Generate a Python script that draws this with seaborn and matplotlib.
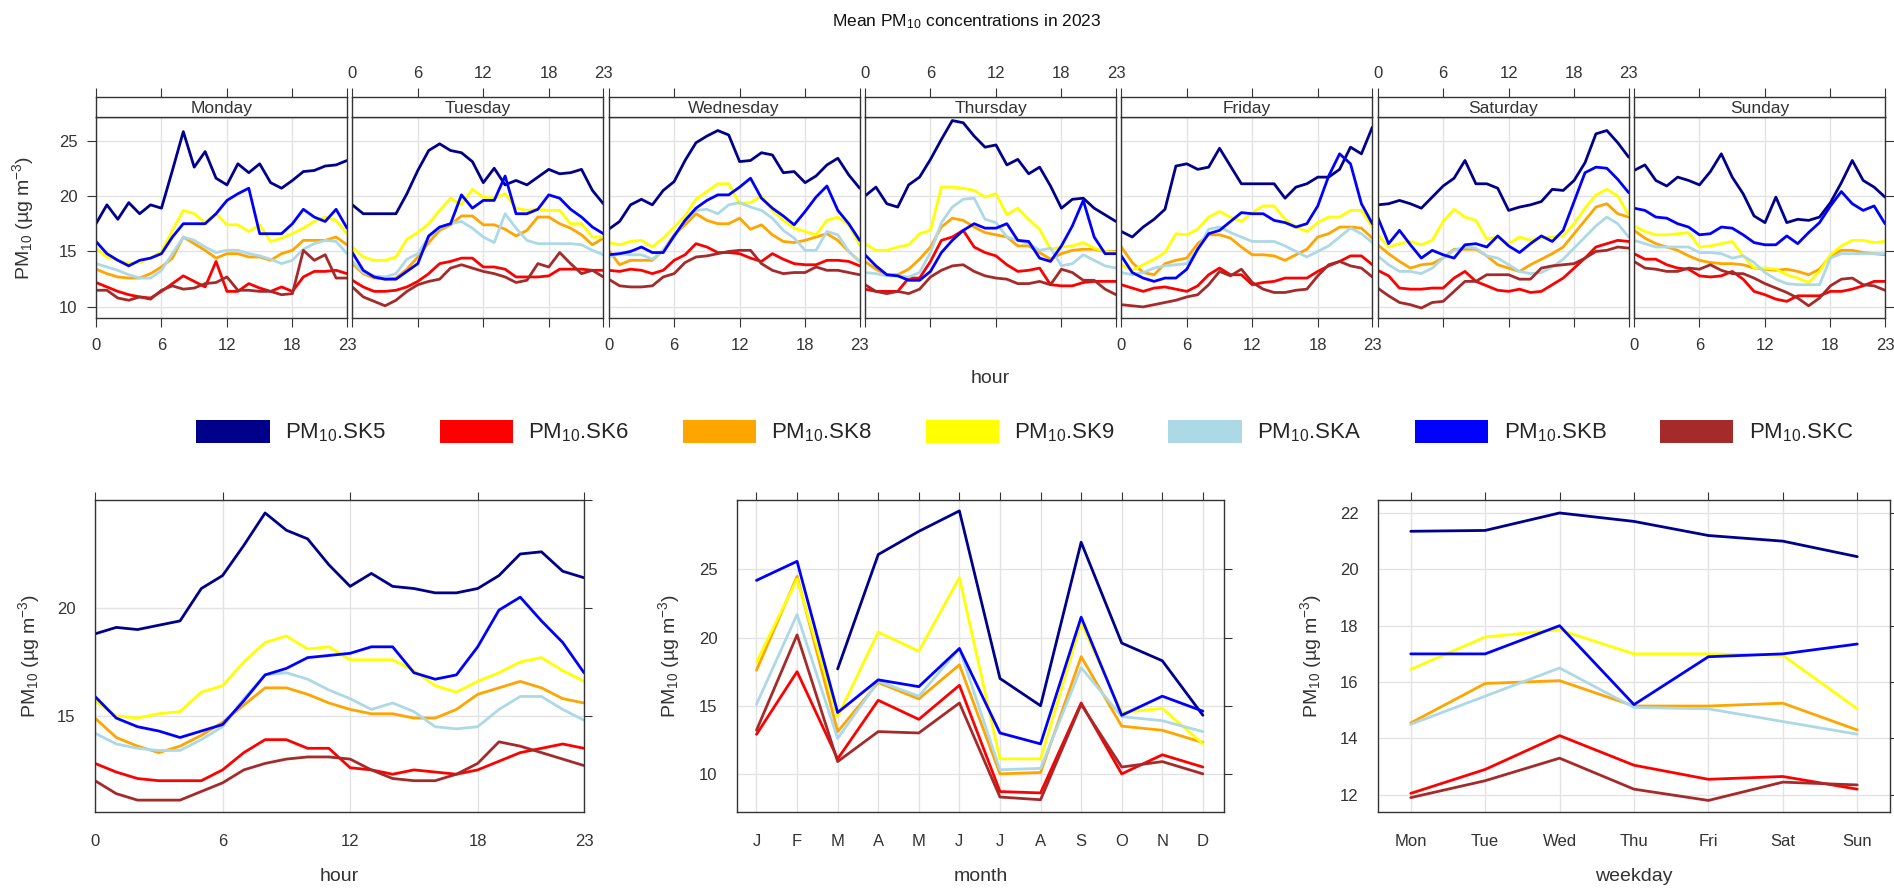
import numpy as np
import pandas as pd
import matplotlib
matplotlib.use('Agg')
import matplotlib.pyplot as plt
import seaborn as sns
from matplotlib.patches import Patch

sites = ['SK5', 'SK6', 'SK8', 'SK9', 'SKA', 'SKB', 'SKC']
site_colours = ['darkblue', 'red', 'orange', 'yellow', 'lightblue', 'blue', 'brown']
days = ['Monday', 'Tuesday', 'Wednesday', 'Thursday', 'Friday', 'Saturday', 'Sunday']
hour_ticks = [0, 6, 12, 18, 23]
month_labels = ['J', 'F', 'M', 'A', 'M', 'J', 'J', 'A', 'S', 'O', 'N', 'D']
weekday_labels = ['Mon', 'Tue', 'Wed', 'Thu', 'Fri', 'Sat', 'Sun']

# day x hour means (Monday..Sunday, 24 values each)
sk5_dayhour = [
    17.5, 19.2, 17.9, 19.4, 18.4, 19.2, 18.9, 22.3, 25.8, 22.6, 24.0, 21.6, 21.0, 22.9, 22.1, 22.9, 21.2, 20.7, 21.4, 22.2, 22.3, 22.7, 22.8, 23.2,
    19.2, 18.4, 18.4, 18.4, 18.4, 20.2, 22.3, 24.1, 24.7, 24.1, 23.9, 23.1, 21.2, 22.5, 21.0, 21.4, 21.0, 21.7, 22.4, 22.0, 22.1, 22.4, 20.5, 19.3,
    17.0, 17.7, 19.2, 19.7, 19.2, 20.5, 21.3, 23.2, 24.8, 25.4, 25.9, 25.5, 23.1, 23.2, 23.9, 23.7, 22.1, 22.2, 21.2, 21.8, 22.8, 23.4, 21.9, 20.7,
    20.0, 20.8, 19.3, 19.0, 21.0, 21.7, 23.3, 25.1, 26.8, 26.6, 25.4, 24.4, 24.6, 22.8, 23.3, 22.0, 22.6, 20.9, 18.9, 19.7, 19.8, 18.9, 18.3, 17.7,
    16.8, 16.3, 17.2, 17.9, 18.8, 22.7, 22.9, 22.4, 22.6, 24.3, 22.7, 21.1, 21.1, 21.1, 21.1, 19.8, 20.8, 21.1, 21.7, 21.7, 22.4, 24.4, 23.8, 26.2,
    19.2, 19.3, 19.6, 19.3, 18.9, 19.9, 20.9, 21.6, 23.2, 21.1, 21.1, 20.7, 18.7, 19.0, 19.2, 19.5, 20.6, 20.5, 21.4, 23.0, 25.6, 25.9, 24.8, 23.5,
    22.3, 22.8, 21.4, 20.9, 21.7, 21.4, 21.0, 22.2, 23.8, 21.7, 20.2, 18.2, 17.6, 19.9, 17.6, 17.9, 17.8, 18.1, 19.4, 21.2, 23.2, 21.4, 20.8, 19.9,
]
sk6_dayhour = [
    12.2, 11.8, 11.4, 11.1, 10.9, 10.8, 11.4, 12.1, 12.8, 12.3, 11.8, 14.1, 11.4, 11.4, 12.1, 11.7, 11.4, 11.8, 11.4, 12.7, 13.2, 13.2, 13.3, 13.0,
    12.4, 11.8, 11.4, 11.4, 11.5, 11.8, 12.3, 13.0, 13.9, 14.1, 14.4, 14.4, 13.6, 13.6, 13.4, 12.7, 12.7, 12.7, 12.8, 13.4, 13.4, 13.4, 13.3, 13.3,
    13.3, 13.2, 13.4, 13.3, 13.0, 13.3, 14.2, 14.7, 15.7, 15.4, 14.9, 14.9, 14.8, 14.4, 14.1, 14.8, 14.3, 13.9, 13.8, 13.8, 14.2, 14.2, 14.1, 13.7,
    11.6, 11.4, 11.4, 11.4, 12.6, 12.6, 14.1, 16.0, 16.3, 16.9, 15.4, 14.9, 14.6, 13.8, 13.2, 13.3, 13.5, 12.0, 11.9, 11.9, 12.2, 12.3, 12.3, 12.3,
    12.0, 11.7, 11.4, 11.7, 11.8, 11.6, 11.4, 11.9, 12.9, 13.5, 12.9, 12.9, 12.0, 12.2, 12.3, 12.6, 12.6, 12.6, 13.2, 13.7, 14.1, 14.6, 14.6, 13.8,
    13.3, 12.8, 11.7, 11.6, 11.6, 11.7, 11.7, 12.6, 13.2, 12.3, 11.9, 11.5, 11.4, 11.6, 11.3, 11.4, 12.0, 12.6, 13.5, 14.4, 15.4, 15.7, 16.0, 15.9,
    14.8, 14.3, 14.3, 13.8, 13.5, 13.4, 12.8, 12.7, 12.8, 13.2, 12.5, 11.4, 11.1, 10.7, 10.5, 11.0, 11.0, 11.0, 11.4, 11.4, 11.6, 11.9, 12.3, 12.3,
]
sk8_dayhour = [
    13.4, 13.0, 12.7, 12.6, 12.6, 13.0, 13.6, 14.4, 16.3, 15.7, 15.1, 14.4, 14.8, 14.8, 14.5, 14.5, 14.2, 14.8, 15.1, 16.0, 16.0, 16.0, 16.3, 15.6,
    13.9, 13.0, 12.6, 12.5, 12.6, 13.4, 14.5, 15.8, 16.9, 17.4, 18.2, 18.2, 17.4, 17.4, 17.0, 16.4, 16.9, 18.1, 18.1, 17.5, 17.1, 16.5, 15.6, 16.2,
    15.1, 13.8, 14.2, 14.2, 14.2, 15.1, 16.5, 17.4, 18.4, 17.8, 17.5, 17.5, 18.0, 17.0, 17.4, 16.5, 15.9, 15.8, 16.0, 16.3, 16.6, 16.0, 15.0, 14.1,
    14.1, 13.4, 12.9, 12.9, 13.4, 14.3, 15.4, 17.2, 18.0, 17.8, 17.2, 16.7, 16.5, 16.3, 15.5, 15.5, 14.9, 14.3, 14.8, 15.1, 15.2, 15.2, 15.0, 15.0,
    15.4, 14.0, 13.1, 12.9, 13.9, 14.2, 14.4, 15.7, 16.5, 16.5, 16.2, 15.4, 14.7, 14.7, 14.6, 14.2, 14.7, 15.2, 16.3, 16.6, 17.2, 17.2, 17.1, 16.2,
    15.6, 14.8, 14.1, 13.5, 13.8, 13.9, 14.4, 15.2, 15.2, 15.2, 14.6, 13.8, 13.5, 13.2, 13.8, 14.3, 14.8, 15.4, 16.6, 17.8, 19.0, 19.3, 18.4, 18.1,
    16.9, 16.2, 15.7, 15.4, 15.1, 14.6, 14.2, 14.0, 13.9, 13.9, 13.8, 13.5, 13.4, 13.3, 13.4, 13.2, 12.9, 13.4, 14.6, 15.1, 15.1, 14.9, 14.8, 14.7,
]
sk9_dayhour = [
    15.3, 14.5, 14.2, 13.9, 14.0, 14.4, 15.0, 16.9, 18.7, 18.4, 17.6, 18.4, 17.4, 17.4, 16.8, 17.4, 15.9, 16.2, 16.6, 17.1, 17.7, 18.1, 17.8, 16.6,
    15.4, 14.5, 14.2, 14.2, 14.5, 16.1, 16.7, 17.5, 18.7, 19.8, 19.2, 20.6, 19.9, 19.8, 20.2, 18.9, 18.7, 18.8, 18.7, 18.7, 17.5, 17.5, 16.3, 16.3,
    15.8, 15.6, 15.9, 16.0, 15.4, 16.2, 17.2, 18.2, 19.7, 20.4, 21.1, 21.1, 19.3, 19.4, 20.0, 18.7, 17.8, 17.1, 16.8, 16.5, 17.8, 18.1, 17.4, 15.6,
    15.7, 15.1, 15.1, 15.4, 15.6, 16.6, 16.9, 20.8, 20.8, 20.7, 20.5, 19.9, 20.2, 18.3, 18.9, 17.9, 17.0, 15.2, 15.4, 15.5, 15.8, 15.3, 15.0, 14.9,
    13.8, 13.3, 13.8, 14.3, 14.9, 16.6, 16.5, 17.0, 18.1, 18.6, 18.1, 17.7, 18.5, 19.1, 19.1, 17.9, 17.2, 16.8, 17.6, 18.1, 18.1, 18.7, 18.7, 17.2,
    16.5, 15.4, 15.7, 15.9, 15.6, 16.0, 17.7, 18.8, 18.1, 17.8, 16.1, 16.3, 15.7, 16.3, 16.0, 16.2, 16.3, 16.4, 17.5, 18.9, 20.1, 20.6, 20.0, 18.3,
    17.3, 16.8, 16.5, 16.5, 16.6, 16.7, 15.4, 15.5, 15.7, 15.9, 14.6, 13.5, 13.5, 13.4, 12.9, 12.6, 12.2, 13.2, 14.7, 15.5, 16.0, 16.0, 15.8, 15.9,
]
ska_dayhour = [
    13.9, 13.6, 13.3, 12.9, 12.6, 12.6, 13.3, 14.8, 16.3, 16.0, 15.4, 14.9, 15.1, 15.1, 14.8, 14.6, 14.3, 13.9, 14.2, 15.2, 15.7, 16.0, 15.9, 14.8,
    14.1, 13.1, 12.8, 12.7, 13.0, 14.3, 14.8, 16.3, 17.1, 17.5, 17.7, 17.1, 16.3, 15.8, 18.4, 17.1, 16.0, 15.7, 15.7, 15.7, 15.7, 15.6, 15.1, 14.7,
    14.5, 14.8, 14.7, 14.7, 14.3, 15.1, 16.3, 17.8, 18.7, 18.8, 18.4, 19.2, 19.4, 19.0, 18.7, 18.0, 16.9, 16.2, 15.1, 15.1, 16.8, 16.5, 15.0, 14.1,
    13.1, 13.0, 12.8, 12.8, 12.7, 13.1, 14.9, 17.6, 19.0, 19.7, 19.8, 17.9, 17.6, 16.3, 16.0, 15.7, 15.1, 15.3, 13.7, 13.9, 14.7, 14.2, 13.7, 13.5,
    13.1, 12.9, 13.1, 13.5, 13.7, 13.8, 13.9, 15.2, 17.0, 17.2, 16.7, 16.3, 15.9, 15.9, 15.9, 15.5, 15.0, 14.5, 15.0, 15.5, 16.3, 17.1, 16.6, 15.8,
    14.6, 13.8, 13.2, 13.2, 13.0, 13.5, 14.4, 15.1, 15.4, 15.3, 14.6, 14.4, 13.8, 13.2, 13.0, 13.1, 13.6, 14.3, 15.3, 16.3, 17.3, 18.1, 17.5, 16.3,
    16.0, 15.7, 15.4, 15.4, 15.4, 15.4, 14.9, 14.9, 14.8, 14.4, 14.6, 14.0, 13.1, 12.5, 12.1, 12.0, 12.0, 12.0, 14.4, 14.8, 14.8, 14.8, 14.8, 14.8,
]
skb_dayhour = [
    15.9, 14.8, 14.2, 13.7, 14.2, 14.4, 14.8, 16.3, 17.5, 17.5, 17.5, 18.4, 19.6, 20.2, 20.7, 16.6, 16.6, 16.6, 17.5, 18.8, 18.1, 17.7, 18.8, 17.1,
    14.9, 13.3, 12.7, 12.5, 12.5, 13.2, 13.9, 16.4, 17.2, 17.5, 20.1, 18.9, 19.6, 19.6, 21.8, 18.4, 18.4, 18.8, 20.1, 19.8, 18.8, 18.1, 17.2, 16.6,
    14.7, 14.8, 15.0, 15.4, 14.9, 14.9, 16.4, 17.8, 18.9, 19.6, 20.1, 20.1, 20.8, 21.6, 19.8, 18.9, 18.2, 17.4, 18.6, 19.9, 20.9, 18.7, 17.5, 16.0,
    14.7, 13.7, 12.9, 12.8, 12.4, 12.4, 13.2, 14.9, 16.0, 16.9, 17.5, 17.1, 17.1, 17.5, 16.0, 15.9, 14.4, 14.1, 15.5, 17.3, 19.6, 16.3, 14.8, 14.8,
    14.6, 13.1, 12.6, 12.3, 12.6, 12.6, 13.4, 15.2, 16.6, 16.9, 17.7, 18.5, 18.4, 18.4, 17.8, 17.6, 17.2, 17.5, 19.1, 21.8, 23.8, 22.9, 19.3, 17.5,
    18.1, 15.7, 16.9, 15.6, 14.4, 15.1, 14.7, 14.4, 15.6, 15.7, 15.4, 16.4, 15.5, 14.9, 15.7, 16.4, 15.9, 16.9, 19.5, 22.1, 22.6, 22.5, 21.5, 20.3,
    18.9, 18.7, 18.1, 18.0, 17.5, 17.2, 16.5, 16.6, 17.2, 17.1, 16.5, 15.8, 15.6, 15.6, 16.4, 15.7, 16.7, 17.6, 19.1, 20.4, 19.3, 18.7, 19.1, 17.5,
]
skc_dayhour = [
    11.5, 11.5, 10.8, 10.6, 10.9, 10.7, 11.5, 11.9, 11.6, 11.7, 12.1, 12.2, 12.7, 11.5, 11.5, 11.4, 11.4, 11.1, 11.2, 15.1, 14.2, 14.7, 12.6, 12.6,
    11.8, 10.9, 10.5, 10.1, 10.6, 11.4, 12.0, 12.3, 12.5, 13.5, 13.8, 13.5, 13.2, 13.0, 12.7, 12.2, 12.4, 13.9, 13.6, 14.9, 13.9, 13.0, 13.3, 12.7,
    12.5, 11.9, 11.8, 11.8, 11.9, 12.7, 13.0, 14.0, 14.5, 14.6, 14.8, 15.0, 15.1, 15.1, 13.9, 13.3, 13.0, 13.1, 13.1, 13.6, 13.3, 13.3, 13.1, 12.9,
    12.0, 11.4, 11.2, 11.4, 11.2, 11.6, 12.7, 13.3, 13.7, 13.8, 13.2, 12.8, 12.6, 12.5, 12.1, 12.1, 12.3, 12.0, 13.4, 13.1, 12.4, 12.4, 11.6, 11.1,
    10.2, 10.1, 10.0, 10.2, 10.4, 10.6, 10.9, 11.1, 12.0, 13.2, 12.8, 13.4, 12.2, 11.6, 11.3, 11.3, 11.5, 11.6, 12.8, 13.8, 14.1, 13.7, 13.5, 12.7,
    11.7, 11.0, 10.4, 10.2, 9.9, 10.4, 10.5, 11.4, 12.3, 12.3, 12.9, 12.9, 12.9, 12.5, 12.5, 13.5, 13.7, 13.8, 13.9, 14.4, 15.0, 15.1, 15.4, 15.3,
    14.1, 13.5, 13.4, 13.2, 13.2, 13.5, 13.4, 13.8, 13.3, 13.0, 13.0, 12.6, 12.1, 11.7, 11.3, 10.8, 10.1, 10.8, 11.9, 12.5, 12.6, 12.0, 11.9, 11.5,
]

# mean diurnal cycle (hour 0..23)
sk5_hour = [18.8, 19.1, 19.0, 19.2, 19.4, 20.9, 21.5, 22.9, 24.4, 23.6, 23.2, 22.0, 21.0, 21.6, 21.0, 20.9, 20.7, 20.7, 20.9, 21.5, 22.5, 22.6, 21.7, 21.4]
sk6_hour = [12.8, 12.4, 12.1, 12.0, 12.0, 12.0, 12.5, 13.3, 13.9, 13.9, 13.5, 13.5, 12.6, 12.5, 12.3, 12.5, 12.4, 12.3, 12.5, 12.9, 13.3, 13.5, 13.7, 13.5]
sk8_hour = [14.9, 14.0, 13.6, 13.3, 13.6, 14.1, 14.7, 15.5, 16.3, 16.3, 16.0, 15.6, 15.3, 15.1, 15.1, 14.9, 14.9, 15.3, 16.0, 16.3, 16.6, 16.3, 15.8, 15.6]
sk9_hour = [15.7, 15.0, 14.9, 15.1, 15.2, 16.1, 16.4, 17.5, 18.4, 18.7, 18.1, 18.2, 17.6, 17.6, 17.6, 17.1, 16.4, 16.1, 16.6, 17.0, 17.5, 17.7, 17.1, 16.6]
ska_hour = [14.2, 13.7, 13.5, 13.4, 13.4, 13.9, 14.5, 15.8, 16.9, 17.0, 16.7, 16.2, 15.8, 15.3, 15.6, 15.2, 14.5, 14.4, 14.5, 15.3, 15.9, 15.9, 15.3, 14.8]
skb_hour = [15.9, 14.9, 14.5, 14.3, 14.0, 14.3, 14.6, 15.7, 16.9, 17.2, 17.7, 17.8, 17.9, 18.2, 18.2, 17.0, 16.7, 16.9, 18.2, 19.9, 20.5, 19.4, 18.4, 17.0]
skc_hour = [12.0, 11.4, 11.1, 11.1, 11.1, 11.5, 11.9, 12.5, 12.8, 13.0, 13.1, 13.1, 13.0, 12.5, 12.1, 12.0, 12.0, 12.3, 12.8, 13.8, 13.6, 13.3, 13.0, 12.7]

# monthly means (Jan..Dec), SK5 has no data for Jan/Feb
sk5_month = [np.nan, np.nan, 17.7, 26.1, 27.8, 29.3, 17.0, 15.0, 27.0, 19.6, 18.3, 14.3]
sk6_month = [12.9, 17.5, 11.1, 15.4, 14.0, 16.5, 8.7, 8.6, 15.2, 10.0, 11.4, 10.5]
sk8_month = [17.6, 24.5, 13.1, 16.7, 15.5, 18.0, 10.0, 10.1, 18.6, 13.5, 13.2, 12.3]
sk9_month = [18.2, 24.3, 14.2, 20.4, 19.0, 24.4, 11.1, 11.1, 21.1, 14.5, 14.8, 12.2]
ska_month = [15.1, 21.7, 12.6, 16.8, 15.7, 19.2, 10.3, 10.4, 17.8, 14.2, 13.9, 13.1]
skb_month = [24.2, 25.6, 14.5, 16.9, 16.4, 19.2, 13.0, 12.2, 21.5, 14.3, 15.7, 14.6]
skc_month = [13.2, 20.2, 10.9, 13.1, 13.0, 15.2, 8.3, 8.1, 15.1, 10.5, 10.9, 10.0]

# weekday means (Mon..Sun)
sk5_week = [21.35, 21.38, 22.0, 21.7, 21.2, 21.0, 20.45]
sk6_week = [12.05, 12.9, 14.1, 13.05, 12.55, 12.65, 12.2]
sk8_week = [14.55, 15.95, 16.05, 15.15, 15.15, 15.25, 14.3]
sk9_week = [16.45, 17.6, 17.85, 17.0, 17.0, 16.95, 15.05]
ska_week = [14.5, 15.5, 16.5, 15.1, 15.05, 14.6, 14.15]
skb_week = [17.0, 17.0, 18.0, 15.2, 16.9, 17.0, 17.35]
skc_week = [11.9, 12.5, 13.3, 12.2, 11.8, 12.45, 12.35]


def long_frame(series, xname, xvals):
    rows = []
    for site, vals in zip(sites, series):
        for x, v in zip(xvals, vals):
            rows.append((site, x, v))
    return pd.DataFrame(rows, columns=['site', xname, 'pm10'])


dh_x = [(d, h) for d in days for h in range(24)]
df_dh = long_frame([sk5_dayhour, sk6_dayhour, sk8_dayhour, sk9_dayhour, ska_dayhour, skb_dayhour, skc_dayhour], 'dh', dh_x)
df_dh['day'] = df_dh['dh'].str[0]
df_dh['hour'] = df_dh['dh'].str[1]
df_hour = long_frame([sk5_hour, sk6_hour, sk8_hour, sk9_hour, ska_hour, skb_hour, skc_hour], 'hour', range(24))
df_month = long_frame([sk5_month, sk6_month, sk8_month, sk9_month, ska_month, skb_month, skc_month], 'month', range(1, 13))
df_week = long_frame([sk5_week, sk6_week, sk8_week, sk9_week, ska_week, skb_week, skc_week], 'weekday', range(1, 8))

palette = dict(zip(sites, site_colours))

sns.set_style('white')
plt.rcParams['font.family'] = ['Liberation Sans', 'DejaVu Sans']
plt.rcParams['mathtext.default'] = 'regular'
plt.rcParams['axes.edgecolor'] = '#333333'
plt.rcParams['axes.linewidth'] = 1.0
plt.rcParams['xtick.color'] = '#333333'
plt.rcParams['ytick.color'] = '#333333'

W, H = 1894, 888
fig = plt.figure(figsize=(W / 100, H / 100), dpi=100)


def px_axes(x0, y0, x1, y1):
    return fig.add_axes([x0 / W, 1 - y1 / H, (x1 - x0) / W, (y1 - y0) / H])


grid_col = '#e3e3e3'
tick_fs = 12
lab_fs = 14
lab_col = '#333333'
ylab = 'PM$_{10}$ (µg m$^{-3}$)'


def draw(ax, data, x):
    sns.lineplot(data=data, x=x, y='pm10', hue='site', hue_order=sites, palette=palette,
                 legend=False, ax=ax, linewidth=2.0, errorbar=None)
    ax.set_xlabel('')
    ax.set_ylabel('')
    ax.grid(True, color=grid_col, linewidth=1)
    ax.set_axisbelow(True)


# top: day x hour panels
step = (1634 - 96) / 6
for i, day in enumerate(days):
    x0 = 96 + i * step
    ax = px_axes(x0, 117, x0 + 251, 318)
    draw(ax, df_dh[df_dh['day'] == day], 'hour')
    ax.set_xlim(0, 23)
    ax.set_ylim(9.0, 27.12)
    ax.set_xticks(hour_ticks)
    ax.set_yticks([10, 15, 20, 25])
    ax.tick_params(axis='x', direction='out', length=6.5, pad=8, labelsize=tick_fs,
                   bottom=True, labelbottom=(i % 2 == 0), labelcolor=lab_col)
    ax.tick_params(axis='y', direction='out', length=6.5, pad=7, labelsize=tick_fs,
                   left=(i == 0), labelleft=(i == 0), right=(i == 6), labelright=False,
                   labelcolor=lab_col)

    strip = px_axes(x0, 97, x0 + 251, 117)
    strip.set_xlim(0, 23)
    strip.set_ylim(0, 1)
    strip.set_xticks(hour_ticks)
    strip.set_yticks([])
    strip.tick_params(axis='x', direction='out', length=6.5, pad=5, labelsize=tick_fs,
                      top=True, bottom=False, labeltop=(i % 2 == 1), labelbottom=False,
                      labelcolor=lab_col)
    strip.text(11.5, 0.4, day, ha='center', va='center', fontsize=12.5, color='#333333')

fig.text(23 / W, 1 - 218 / H, ylab, rotation=90, ha='center', va='center', fontsize=lab_fs, color='#333333')
fig.text(990 / W, 1 - 378 / H, 'hour', ha='center', va='center', fontsize=lab_fs, color='#333333')
fig.text(967 / W, 1 - 22 / H, 'Mean PM$_{10}$ concentrations in 2023', ha='center', va='center',
         fontsize=12.5, color='#111111')

# legend
handles = [Patch(facecolor=c, edgecolor='none') for c in site_colours]
labels = ['PM$_{10}$.' + s for s in sites]
fig.legend(handles, labels, ncol=7, loc='center', bbox_to_anchor=(1025 / W, 1 - 432 / H),
           frameon=False, fontsize=16, handlelength=3.3, handleheight=1.25,
           handletextpad=0.7, columnspacing=2.4)

# bottom: hour, month, weekday
ax_h = px_axes(95, 500, 584, 812)
draw(ax_h, df_hour, 'hour')
ax_h.set_xlim(0, 23)
ax_h.set_ylim(10.55, 25.0)
ax_h.set_xticks(hour_ticks)
ax_h.set_yticks([15, 20, 25])
ax_h.set_yticklabels(['15', '20', ''])

ax_m = px_axes(737, 500, 1224, 812)
draw(ax_m, df_month, 'month')
ax_m.set_xlim(0.52, 12.52)
ax_m.set_ylim(7.2, 30.1)
ax_m.set_xticks(range(1, 13))
ax_m.set_xticklabels(month_labels)
ax_m.set_yticks([10, 15, 20, 25])

ax_w = px_axes(1378, 500, 1890, 812)
draw(ax_w, df_week, 'weekday')
ax_w.set_xlim(0.56, 7.44)
ax_w.set_ylim(11.39, 22.46)
ax_w.set_xticks(range(1, 8))
ax_w.set_xticklabels(weekday_labels)
ax_w.set_yticks([12, 14, 16, 18, 20, 22])

for ax, name, ylx in [(ax_h, 'hour', 29), (ax_m, 'month', 669), (ax_w, 'weekday', 1311)]:
    ax.tick_params(axis='both', direction='out', length=6, labelsize=tick_fs, labelcolor=lab_col,
                   top=True, right=True, labeltop=False, labelright=False)
    ax.tick_params(axis='x', pad=10)
    ax.tick_params(axis='y', pad=8)
    bb = ax.get_position()
    fig.text((bb.x0 + bb.x1) / 2, 1 - 876 / H, name, ha='center', va='center', fontsize=lab_fs, color='#333333')
    fig.text(ylx / W, 1 - 656 / H, ylab, rotation=90, ha='center', va='center', fontsize=lab_fs, color='#333333')

fig.savefig('out.png', dpi=100)
